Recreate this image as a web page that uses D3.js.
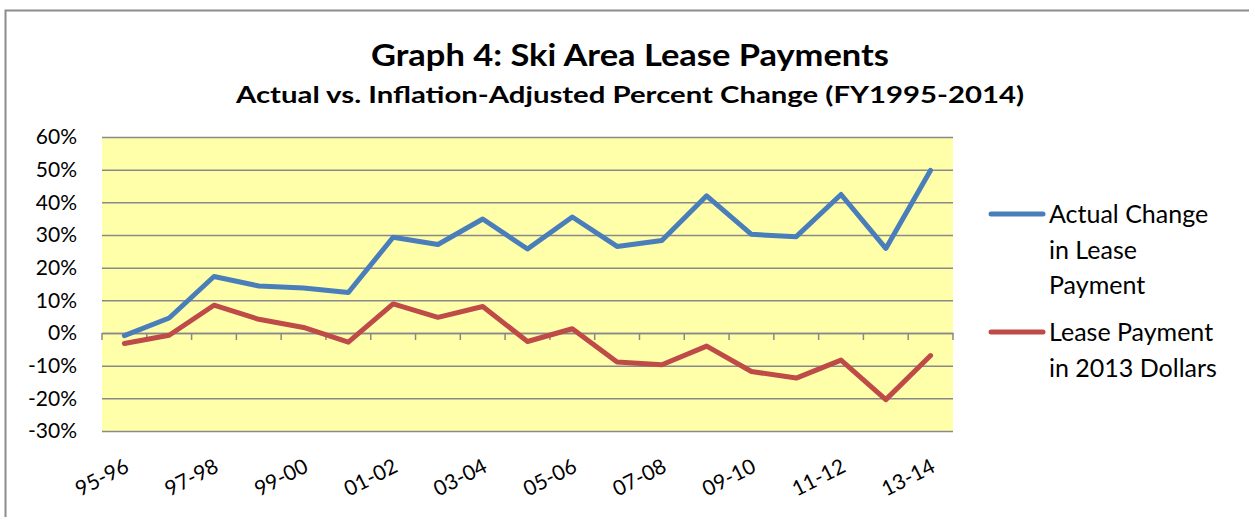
<!DOCTYPE html>
<html>
<head>
<meta charset="utf-8">
<script src="https://cdn.jsdelivr.net/npm/d3@7"></script>
<style>
  body { margin: 0; background: #fff; }
  text { font-family: Lato, "Open Sans", sans-serif; fill: #000; }
</style>
</head>
<body>
<svg id="chart" width="1249" height="517"></svg>
<script>
const categories = ['95-96','96-97','97-98','98-99','99-00','00-01','01-02','02-03','03-04','04-05',
  '05-06','06-07','07-08','08-09','09-10','10-11','11-12','12-13','13-14'];
const actualChange = [-0.8, 4.6, 17.3, 14.4, 13.8, 12.4, 29.3, 27.1, 34.9, 25.7,
  35.5, 26.5, 28.3, 42.0, 30.2, 29.5, 42.4, 25.9, 49.8];
const realChange = [-3.2, -0.7, 8.5, 4.2, 1.7, -2.8, 8.9, 4.8, 8.1, -2.6,
  1.3, -8.9, -9.7, -4.0, -11.8, -13.8, -8.3, -20.4, -6.9];
const yTicks = [-30, -20, -10, 0, 10, 20, 30, 40, 50, 60];
const seriesNames = [['Actual Change', 'in Lease', 'Payment'], ['Lease Payment', 'in 2013 Dollars']];

const svg = d3.select('#chart');
const width = +svg.attr('width');
const height = +svg.attr('height');
const margin = { top: 137, right: 296, bottom: 86, left: 102 };
const innerWidth = width - margin.left - margin.right;
const innerHeight = height - margin.top - margin.bottom;

// outer frame (only top and left visible)
svg.append('path')
  .attr('d', `M5.5,${height} V10.5 H${width}`)
  .attr('fill', 'none')
  .attr('stroke', '#8c8c8c')
  .attr('stroke-width', 2);

svg.append('text')
  .attr('x', 630).attr('y', 66)
  .attr('text-anchor', 'middle')
  .attr('textLength', 518)
  .attr('lengthAdjust', 'spacingAndGlyphs')
  .style('font-size', '31px').style('font-weight', 'bold')
  .text('Graph 4: Ski Area Lease Payments');

svg.append('text')
  .attr('x', 630).attr('y', 103)
  .attr('text-anchor', 'middle')
  .attr('textLength', 788)
  .attr('lengthAdjust', 'spacingAndGlyphs')
  .style('font-size', '23px').style('font-weight', 'bold')
  .text('Actual vs. Inflation-Adjusted Percent Change (FY1995-2014)');

const xScale = d3.scaleBand()
  .domain(categories)
  .range([0, innerWidth]);

const yScale = d3.scaleLinear()
  .domain([-30, 60])
  .range([innerHeight, 0]);

const g = svg.append('g')
  .attr('transform', `translate(${margin.left}, ${margin.top})`);

g.append('rect')
  .attr('width', innerWidth)
  .attr('height', innerHeight)
  .attr('fill', '#ffffaa');

// gridlines
const yAxis = d3.axisLeft(yScale)
  .tickValues(yTicks)
  .tickSize(-innerWidth)
  .tickFormat(d => d + '%');

const yAxisG = g.append('g').call(yAxis);
yAxisG.select('.domain').remove();
yAxisG.selectAll('.tick line')
  .attr('stroke', '#898989')
  .attr('stroke-width', 1.5);
yAxisG.selectAll('.tick text')
  .attr('x', -25)
  .style('font-size', '21px')
  .style('font-family', 'Lato, sans-serif')
  .attr('fill', '#000');

// category axis on the 0% line
const xAxis = d3.axisBottom(xScale)
  .tickValues([])
  .tickSizeOuter(0);
const xAxisG = g.append('g')
  .attr('transform', `translate(0, ${yScale(0)})`)
  .call(xAxis);
xAxisG.select('.domain').attr('stroke', '#898989').attr('stroke-width', 1.5);
xAxisG.selectAll('.boundary')
  .data(d3.range(categories.length + 1))
  .enter()
  .append('line')
    .attr('x1', i => i * xScale.step())
    .attr('x2', i => i * xScale.step())
    .attr('y1', 0)
    .attr('y2', 7)
    .attr('stroke', '#898989')
    .attr('stroke-width', 1.5);

const xCenter = d => xScale(d) + xScale.bandwidth() / 2;

// rotated category labels, every other one
g.selectAll('.xlabel')
  .data(categories.filter((d, i) => i % 2 === 0))
  .enter()
  .append('text')
    .attr('class', 'xlabel')
    .attr('text-anchor', 'end')
    .attr('transform', d => `translate(${xCenter(d) + 6}, ${innerHeight + 40}) rotate(-27)`)
    .style('font-size', '21px')
    .text(d => d);

const line = d3.line()
  .x((d, i) => xCenter(categories[i]))
  .y(d => yScale(d));

const colors = ['#4a7ebb', '#be4b48'];

[actualChange, realChange].forEach((series, k) => {
  g.append('path')
    .datum(series)
    .attr('fill', 'none')
    .attr('stroke', colors[k])
    .attr('stroke-width', 5)
    .attr('stroke-linejoin', 'round')
    .attr('stroke-linecap', 'round')
    .attr('d', line);
});

// legend
const legend = svg.append('g');
const legendY = [214, 332];
seriesNames.forEach((lines, k) => {
  legend.append('line')
    .attr('x1', 991).attr('x2', 1043)
    .attr('y1', legendY[k]).attr('y2', legendY[k])
    .attr('stroke', colors[k])
    .attr('stroke-width', 5)
    .attr('stroke-linecap', 'round');
  lines.forEach((t, j) => {
    legend.append('text')
      .attr('x', 1049)
      .attr('y', legendY[k] + 9 + j * 35.5)
      .style('font-size', '25px')
      .text(t);
  });
});
</script>
</body>
</html>
